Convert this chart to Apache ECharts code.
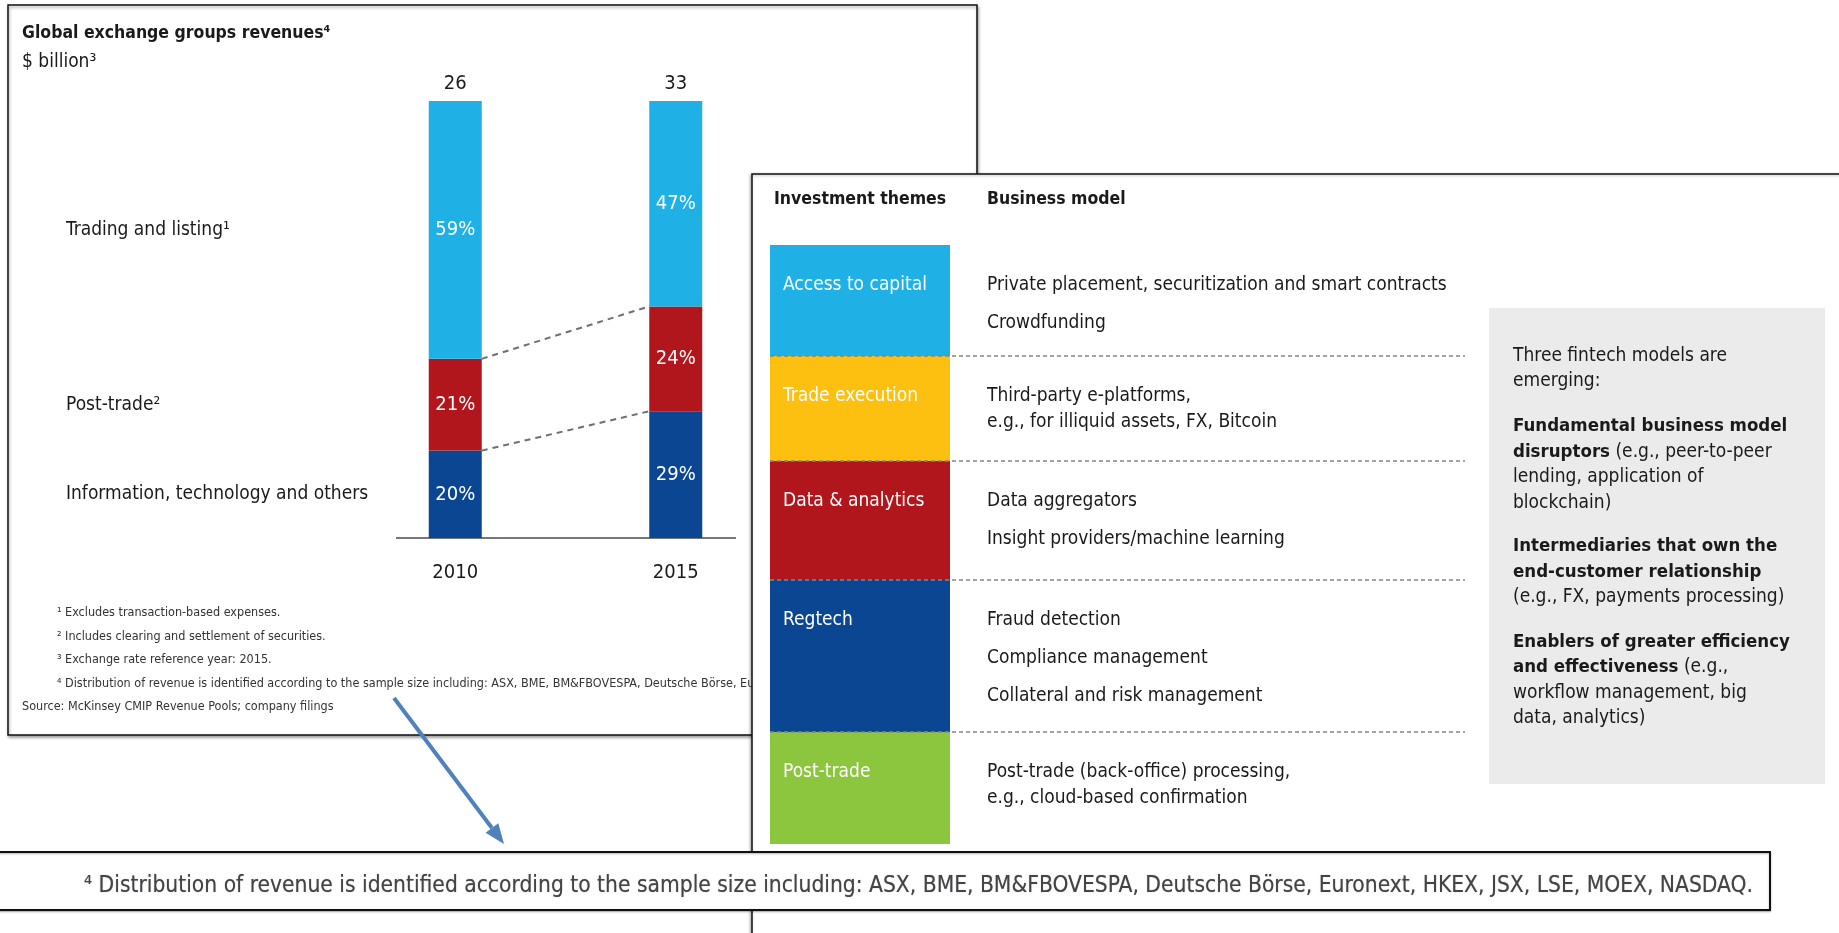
<!DOCTYPE html>
<html>
<head>
<meta charset="utf-8">
<title>Global exchange groups revenues</title>
<script src="https://cdn.jsdelivr.net/npm/echarts@6/dist/echarts.min.js"></script>
<style>
  html, body { margin: 0; padding: 0; background: #fff; }
  #main { width: 1839px; height: 933px; }
</style>
</head>
<body>
<div id="main"></div>
<script>
// chart data
var years = ['2010', '2015'];
var totals = [26, 33];                 // $ billion
var tradingShare = [59, 47];           // %
var postTradeShare = [21, 24];
var infoShare = [20, 29];
var segmentNames = ['Trading and listing\u00b9', 'Post-trade\u00b2', 'Information, technology and others'];

// table data
var themes = ['Access to capital', 'Trade execution', 'Data & analytics', 'Regtech', 'Post-trade'];
var businessModels = [
  ['Private placement, securitization and smart contracts', 'Crowdfunding'],
  ['Third-party e-platforms,\ne.g., for illiquid assets, FX, Bitcoin'],
  ['Data aggregators', 'Insight providers/machine learning'],
  ['Fraud detection', 'Compliance management', 'Collateral and risk management'],
  ['Post-trade (back-office) processing,\ne.g., cloud-based confirmation']
];
var fintechNotes = [
  'Three fintech models are\nemerging:',
  '{b|Fundamental business model}\n{b|disruptors} (e.g., peer-to-peer\nlending, application of\nblockchain)',
  '{b|Intermediaries that own the}\n{b|end-customer relationship}\n(e.g., FX, payments processing)',
  '{b|Enablers of greater efficiency}\n{b|and effectiveness} (e.g.,\nworkflow management, big\ndata, analytics)'
];
var footnotes = [
  '\u00b9 Excludes transaction-based expenses.',
  '\u00b2 Includes clearing and settlement of securities.',
  '\u00b3 Exchange rate reference year: 2015.',
  '\u2074 Distribution of revenue is identified according to the sample size including: ASX, BME, BM&FBOVESPA, Deutsche B\u00f6rse, Euronext, HKEX, JSX, LSE, MOEX, NASDAQ.'
];
var sourceText = 'Source: McKinsey CMIP Revenue Pools; company filings';

// layout / style
var FONT = "'DejaVu Sans Condensed', 'Liberation Sans', sans-serif";
var CYAN = '#1fb1e6', RED = '#b2161d', BLUE = '#0b4693';
var themeColors = ['#1fb1e6', '#fdc010', '#b2161d', '#0b4693', '#8cc63f'];
var rowEdges = [245, 356, 461, 580, 732, 844];
var BAR_W = 53;
var BODY = '19px ' + FONT, HEAD = 'bold 17.5px ' + FONT;

var chart = echarts.init(document.getElementById('main'));

function segLabel() {
  return { show: true, position: 'inside', color: '#fff', fontSize: 20, fontFamily: FONT, formatter: '{c}%' };
}

// connectors between the two bars (segment boundaries)
var connectors = [
  [0, infoShare[0] + postTradeShare[0], infoShare[1] + postTradeShare[1]],
  [0, infoShare[0], infoShare[1]]
];
// left-side labels at the middle of each 2010 segment
var sideLabels = [
  [0, infoShare[0] + postTradeShare[0] + tradingShare[0] / 2, 0],
  [0, infoShare[0] + postTradeShare[0] / 2, 1],
  [0, infoShare[0] / 2, 2]
];
var totalPoints = years.map(function (y, i) {
  return [i, tradingShare[i] + postTradeShare[i] + infoShare[i], totals[i]];
});

var graphics = [];

// left panel frame
graphics.push({
  type: 'rect', z: 0, shape: { x: 8, y: 5, width: 969, height: 730 },
  style: { fill: '#fff', stroke: '#111', lineWidth: 1.5, shadowBlur: 3, shadowColor: 'rgba(0,0,0,0.35)', shadowOffsetX: 1, shadowOffsetY: 2 }
});
graphics.push({ type: 'text', z: 1, style: { x: 22, y: 33, text: 'Global exchange groups revenues\u2074', font: HEAD, fill: '#1a1a1a', verticalAlign: 'middle' } });
graphics.push({ type: 'text', z: 1, style: { x: 22, y: 62, text: '$ billion\u00b3', font: BODY, fill: '#1a1a1a', verticalAlign: 'middle' } });
graphics.push({ type: 'line', z: 1, shape: { x1: 396, y1: 538, x2: 736, y2: 538 }, style: { stroke: '#777', lineWidth: 2 } });
footnotes.forEach(function (t, i) {
  graphics.push({ type: 'text', z: 1, style: { x: 57, y: 613 + i * 23.5, text: t, font: '12.5px ' + FONT, fill: '#333', verticalAlign: 'middle' } });
});
graphics.push({ type: 'text', z: 1, style: { x: 22, y: 707, text: sourceText, font: '12.5px ' + FONT, fill: '#333', verticalAlign: 'middle' } });

// right panel (overlapping)
graphics.push({
  type: 'rect', z: 10, shape: { x: 752, y: 174, width: 1200, height: 900 },
  style: { fill: '#fff', stroke: '#111', lineWidth: 1.5, shadowBlur: 3, shadowColor: 'rgba(0,0,0,0.3)', shadowOffsetX: -1, shadowOffsetY: 1 }
});
graphics.push({ type: 'text', z: 11, style: { x: 774, y: 199, text: 'Investment themes', font: HEAD, fill: '#1a1a1a', verticalAlign: 'middle' } });
graphics.push({ type: 'text', z: 11, style: { x: 987, y: 199, text: 'Business model', font: HEAD, fill: '#1a1a1a', verticalAlign: 'middle' } });
themes.forEach(function (name, i) {
  var top = rowEdges[i], bottom = rowEdges[i + 1];
  graphics.push({ type: 'rect', z: 11, shape: { x: 770, y: top, width: 180, height: bottom - top }, style: { fill: themeColors[i] } });
  graphics.push({ type: 'text', z: 12, style: { x: 783, y: top + 40, text: name, font: BODY, fill: '#fff', verticalAlign: 'middle' } });
  var y = top + 40;
  businessModels[i].forEach(function (item) {
    var lines = item.split('\n').length;
    graphics.push({ type: 'text', z: 12, style: { x: 987, y: y - 13, text: item, font: BODY, fill: '#1a1a1a', lineHeight: 26, verticalAlign: 'top' } });
    y += (lines - 1) * 26 + 38;
  });
  if (i > 0) {
    graphics.push({ type: 'line', z: 13, shape: { x1: 770, y1: top, x2: 1465, y2: top }, style: { stroke: '#858585', lineWidth: 1.6, lineDash: [4, 3] } });
  }
});
graphics.push({ type: 'rect', z: 11, shape: { x: 1489, y: 308, width: 336, height: 476 }, style: { fill: '#ebebeb' } });
var noteTops = [356, 426.5, 546.5, 642];
fintechNotes.forEach(function (t, i) {
  graphics.push({
    type: 'text', z: 12,
    style: {
      x: 1513, y: noteTops[i] - 12.75, text: t, font: BODY, fill: '#1a1a1a', lineHeight: 25.5, verticalAlign: 'top',
      rich: { b: { fontWeight: 'bold', fontSize: 18.5, fontFamily: FONT, fill: '#1a1a1a', lineHeight: 25.5 } }
    }
  });
});

// enlarged footnote inset
graphics.push({
  type: 'rect', z: 15, shape: { x: -4, y: 852, width: 1774, height: 58 },
  style: { fill: '#fff', stroke: '#111', lineWidth: 2, shadowBlur: 2, shadowColor: 'rgba(0,0,0,0.3)', shadowOffsetY: 1 }
});
graphics.push({
  type: 'text', z: 16,
  style: { x: 84, y: 886, text: footnotes[3], font: '22.6px ' + FONT, fill: '#444', verticalAlign: 'middle', textShadowBlur: 1, textShadowColor: 'rgba(60,60,90,0.5)' }
});

// arrow
(function () {
  var x1 = 394, y1 = 698, x2 = 504, y2 = 844;
  var len = Math.sqrt((x2 - x1) * (x2 - x1) + (y2 - y1) * (y2 - y1));
  var dx = (x2 - x1) / len, dy = (y2 - y1) / len;
  var bx = x2 - dx * 20, by = y2 - dy * 20;
  graphics.push({ type: 'line', z: 20, shape: { x1: x1, y1: y1, x2: bx, y2: by }, style: { stroke: '#4f81bd', lineWidth: 4 } });
  graphics.push({
    type: 'polygon', z: 20,
    shape: { points: [[x2, y2], [bx - dy * 8, by + dx * 8], [bx + dy * 8, by - dx * 8]] },
    style: { fill: '#4f81bd' }
  });
})();

chart.setOption({
  animation: false,
  textStyle: { fontFamily: FONT },
  grid: { left: 345, top: 101, width: 441, height: 437 },
  xAxis: {
    type: 'category', data: years,
    axisLine: { show: false }, axisTick: { show: false },
    axisLabel: { fontSize: 20, color: '#1a1a1a', margin: 25, fontFamily: FONT }
  },
  yAxis: { type: 'value', min: 0, max: 100, show: false },
  graphic: { elements: graphics },
  series: [
    { name: 'Information, technology and others', type: 'bar', stack: 'rev', barWidth: BAR_W, data: infoShare, itemStyle: { color: BLUE }, label: segLabel(), z: 2 },
    { name: 'Post-trade', type: 'bar', stack: 'rev', barWidth: BAR_W, data: postTradeShare, itemStyle: { color: RED }, label: segLabel(), z: 2 },
    { name: 'Trading and listing', type: 'bar', stack: 'rev', barWidth: BAR_W, data: tradingShare, itemStyle: { color: CYAN }, label: segLabel(), z: 2 },
    {
      name: 'connectors', type: 'custom', silent: true, z: 3,
      encode: { x: 0, y: 1 },
      data: connectors,
      renderItem: function (params, api) {
        var p0 = api.coord([0, api.value(1)]);
        var p1 = api.coord([1, api.value(2)]);
        return {
          type: 'line',
          shape: { x1: p0[0] + BAR_W / 2, y1: p0[1], x2: p1[0] - BAR_W / 2, y2: p1[1] },
          style: { stroke: '#6f6f6f', lineWidth: 2, lineDash: [6, 5] }
        };
      }
    },
    {
      name: 'sideLabels', type: 'custom', silent: true, z: 3,
      encode: { x: 0, y: 1 },
      data: sideLabels,
      renderItem: function (params, api) {
        var p = api.coord([0, api.value(1)]);
        return {
          type: 'text',
          style: { x: 66, y: p[1], text: segmentNames[api.value(2)], font: BODY, fill: '#1a1a1a', verticalAlign: 'middle' }
        };
      }
    },
    {
      name: 'totals', type: 'custom', silent: true, z: 3,
      encode: { x: 0, y: 1 },
      data: totalPoints,
      renderItem: function (params, api) {
        var p = api.coord([api.value(0), api.value(1)]);
        return {
          type: 'text',
          style: { x: p[0], y: p[1] - 17, text: String(api.value(2)), font: '20px ' + FONT, fill: '#1a1a1a', align: 'center', verticalAlign: 'middle' }
        };
      }
    }
  ]
});
</script>
</body>
</html>
